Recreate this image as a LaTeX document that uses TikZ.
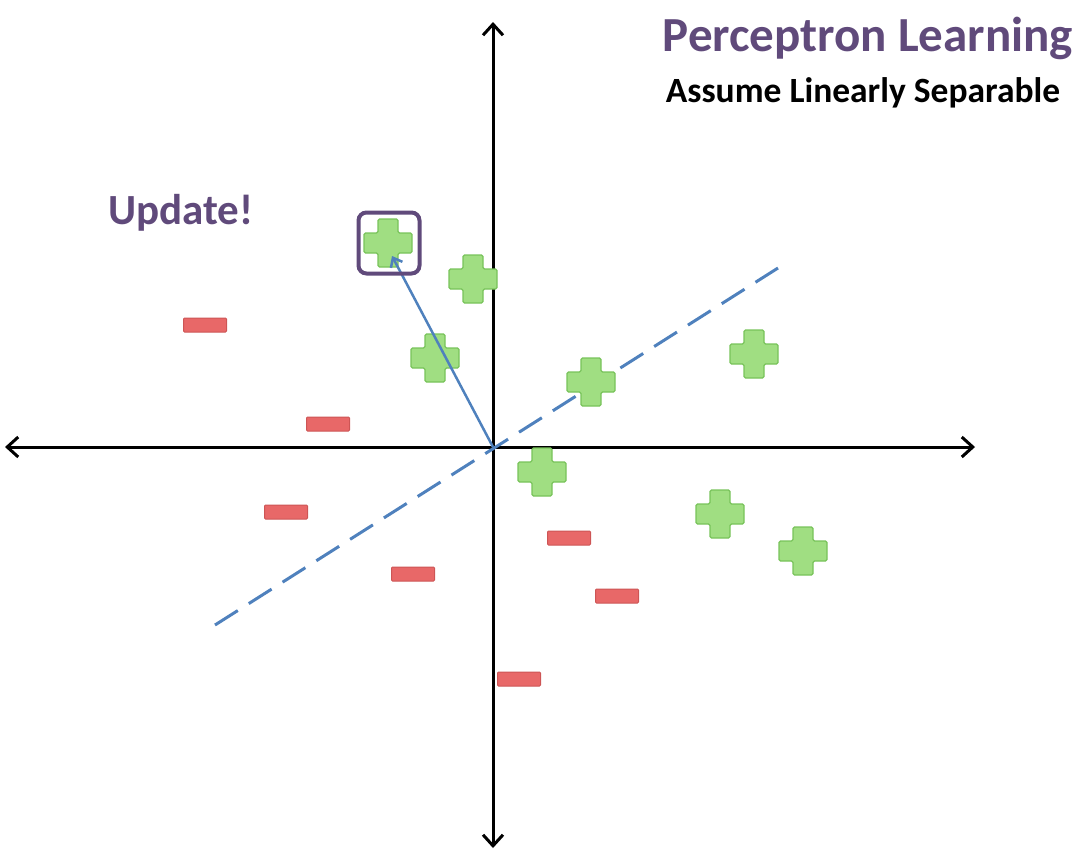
\documentclass[tikz,border=0pt]{standalone}
\usepackage{fontspec}
\setmainfont{Carlito}
\usetikzlibrary{arrows.meta}
\definecolor{titlepurple}{RGB}{96,74,123}
\definecolor{wblue}{RGB}{79,129,189}
\definecolor{pgreen}{RGB}{160,222,130}
\definecolor{pgreenb}{RGB}{120,195,90}
\definecolor{mred}{RGB}{232,104,104}
\definecolor{mredb}{RGB}{205,85,85}
\tikzset{
  axis/.style={line width=3pt,-{Straight Barb[length=11pt,width=20pt,line width=3pt]}},
  plusshape/.style={fill=pgreen,draw=pgreenb,line width=1.2pt,rounded corners=1.5pt},
  minusshape/.style={fill=mred,draw=mredb,line width=1pt,rounded corners=1pt},
  plusmark/.pic={\path[plusshape] (-10,-24)--(10,-24)--(10,-10)--(24,-10)--(24,10)--(10,10)--(10,24)--(-10,24)--(-10,10)--(-24,10)--(-24,-10)--(-10,-10)--cycle;},
  minusmark/.pic={\path[minusshape] (-21.5,-7) rectangle (21.5,7);},
  titletext/.style={font=\bfseries\fontsize{49}{54}\selectfont,text=titlepurple},
  subtext/.style={font=\bfseries\fontsize{35.5}{40}\selectfont,text=black},
  updtext/.style={font=\bfseries\fontsize{43}{48}\selectfont,text=titlepurple},
}
\begin{document}
\begin{tikzpicture}[x=1pt,y=-1pt]
\useasboundingbox (0,0) rectangle (1086,860);
% axes
\coordinate (O) at (493,447);
\coordinate (xl) at (5,447);
\coordinate (xr) at (975,447);
\coordinate (yt) at (493,22);
\coordinate (yb) at (493,848);
\draw[axis] (O) -- (xr);
\draw[axis] (O) -- (xl);
\draw[axis] (O) -- (yt);
\draw[axis] (O) -- (yb);
% separating line
\coordinate (d1) at (215,625);
\coordinate (d2) at (778,268);
\draw[wblue,line width=3pt,dash pattern=on 27pt off 13pt] (d1) -- (d2);
% plus points
\foreach \n/\x/\y in {p1/388/243,p2/473/279,p3/435/358,p4/591/382,p5/754/354,p6/542/472,p7/720/514,p8/803/551}{
  \coordinate (\n) at (\x,\y);
  \pic at (\n) {plusmark};
}
% minus points
\foreach \n/\x/\y in {m1/205/325,m2/328/424,m3/286/512,m4/413/574,m5/569/538,m6/617/596,m7/519/679}{
  \coordinate (\n) at (\x,\y);
  \pic at (\n) {minusmark};
}
% weight vector
\coordinate (wt) at (392,256);
\draw[wblue,line width=2.5pt,-{Straight Barb[length=8pt,width=13pt,line width=2.5pt]}] (O) -- (wt);
% highlight box
\node[draw=titlepurple,line width=4pt,rounded corners=8pt,minimum width=61pt,minimum height=61pt,inner sep=0pt] (box) at (389,243) {};
% texts
\node[titletext] (title) at (868,38) {Perceptron Learning};
\node[subtext] (sub) at (863,93) {Assume Linearly Separable};
\node[updtext] (upd) at (181,213) {Update!};
\end{tikzpicture}
\end{document}
